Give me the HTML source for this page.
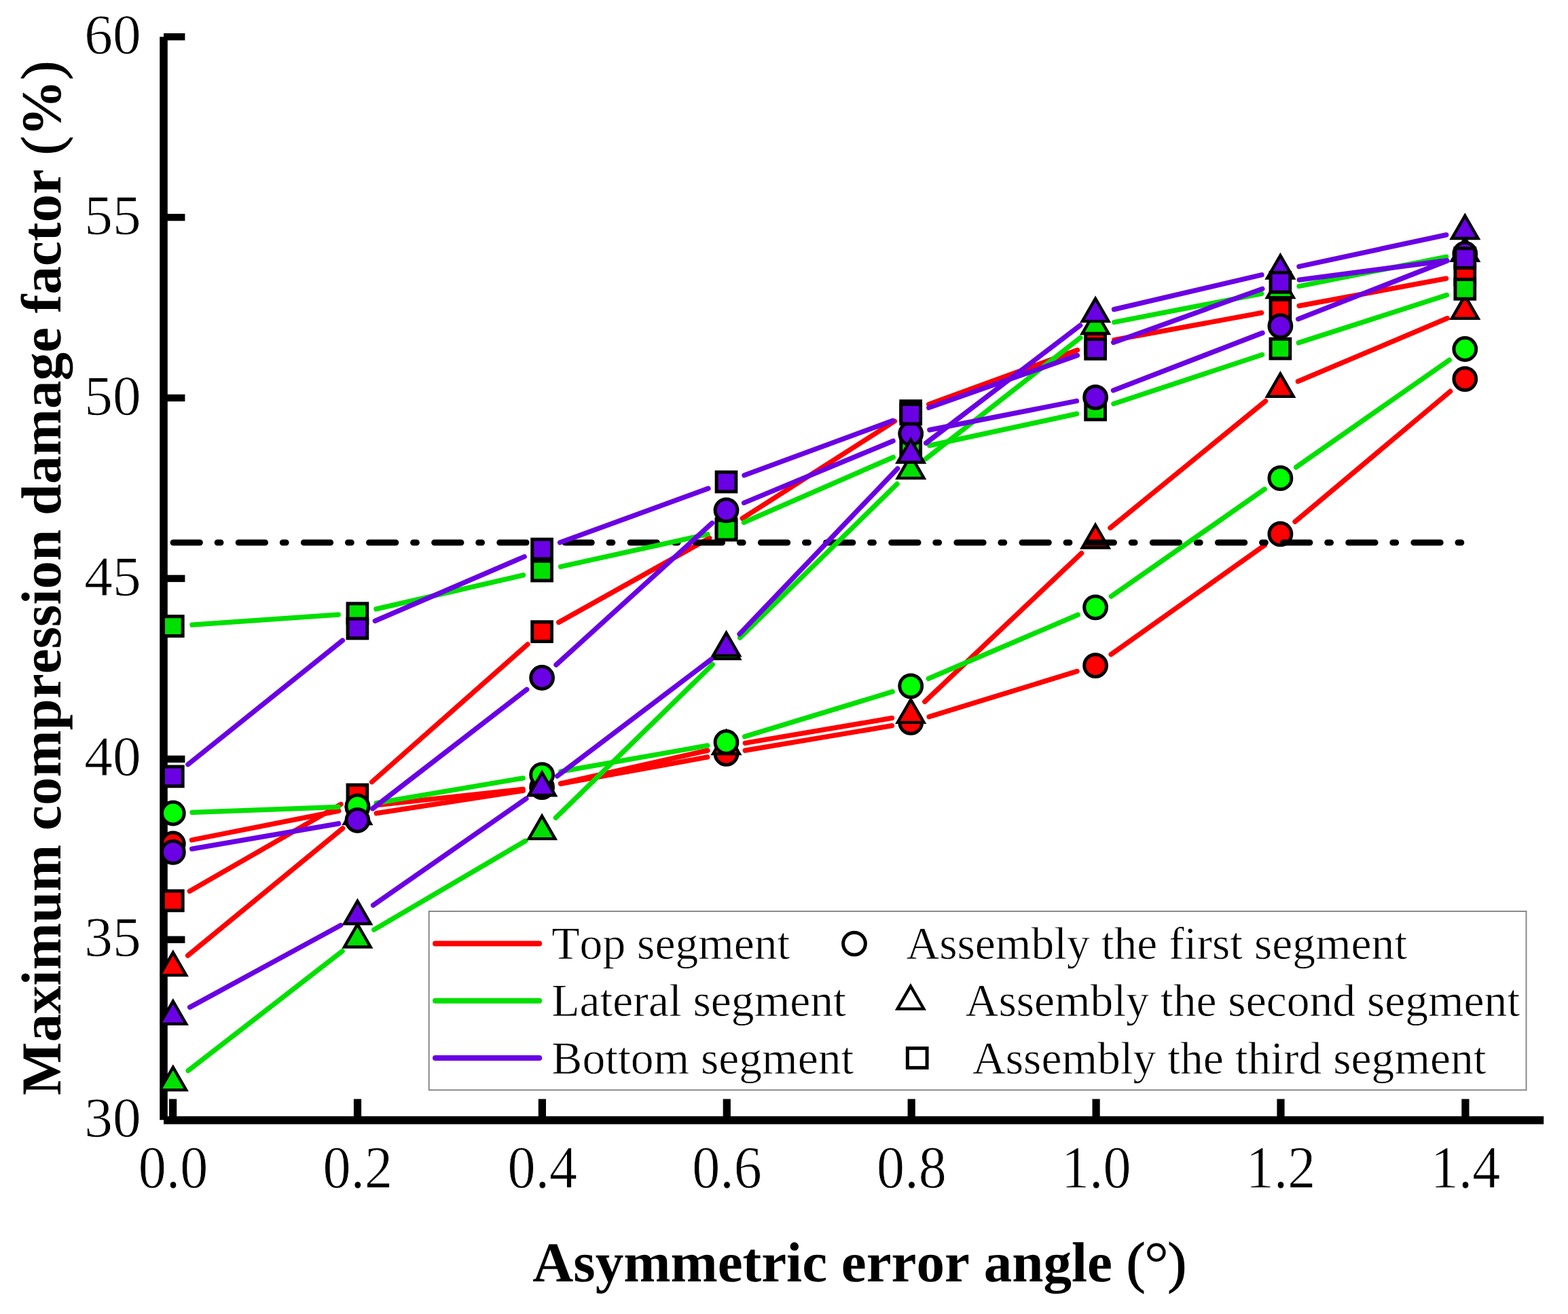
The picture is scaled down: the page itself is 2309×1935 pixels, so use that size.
<!DOCTYPE html>
<html lang="en"><head><meta charset="utf-8"><title>Maximum compression damage factor vs asymmetric error angle</title>
<style>html,body{margin:0;padding:0;background:#fff}body{width:2309px;height:1935px;overflow:hidden}svg{display:block}text{font-family:"Liberation Serif","DejaVu Serif",serif;fill:#000;font-kerning:none;font-variant-ligatures:none;text-rendering:geometricPrecision}.tk{font-size:83.33px;stroke:#fff;stroke-width:.8px}.ti{font-size:83.1px;font-weight:bold}.lg{font-size:67.6px;stroke:#fff;stroke-width:.7px}.pr{font-weight:normal;stroke:#000;stroke-width:1.3px}</style></head><body>
<svg width="2309" height="1935" viewBox="0 0 2309 1935">
<rect width="2309" height="1935" fill="#fff"/>
<g stroke="#000" stroke-width="11.6" fill="none" stroke-linecap="butt">
<path d="M241 54.2V1649.3"/>
<path d="M241 1649.6H2273.2"/>
</g>
<g stroke="#000" stroke-width="10.4" fill="none">
<path d="M241 1383.7H272.4"/>
<path d="M241 1117.8H272.4"/>
<path d="M241 851.9H272.4"/>
<path d="M241 586H272.4"/>
<path d="M241 320.1H272.4"/>
<path d="M241 54.2H272.4"/>
</g>
<g stroke="#000" stroke-width="11.2" fill="none">
<path d="M254.6 1618.4V1649.6"/>
<path d="M526.5 1618.4V1649.6"/>
<path d="M798.4 1618.4V1649.6"/>
<path d="M1070.3 1618.4V1649.6"/>
<path d="M1342.2 1618.4V1649.6"/>
<path d="M1614.1 1618.4V1649.6"/>
<path d="M1886 1618.4V1649.6"/>
<path d="M2157.9 1618.4V1649.6"/>
</g>
<g class="tk" text-anchor="end">
<text x="207.6" y="1674.2">30</text>
<text x="207.6" y="1408.3">35</text>
<text x="207.6" y="1142.4">40</text>
<text x="207.6" y="876.5">45</text>
<text x="207.6" y="610.6">50</text>
<text x="207.6" y="344.7">55</text>
<text x="207.6" y="78.8">60</text>
</g>
<g class="tk" text-anchor="middle">
<text transform="translate(255 1749.3) scale(.985 1.065)">0.0</text>
<text transform="translate(526.85 1749.3) scale(.985 1.065)">0.2</text>
<text transform="translate(798.7 1749.3) scale(.985 1.065)">0.4</text>
<text transform="translate(1070.55 1749.3) scale(.985 1.065)">0.6</text>
<text transform="translate(1342.4 1749.3) scale(.985 1.065)">0.8</text>
<text transform="translate(1614.25 1749.3) scale(.985 1.065)">1.0</text>
<text transform="translate(1886.1 1749.3) scale(.985 1.065)">1.2</text>
<text transform="translate(2157.95 1749.3) scale(.985 1.065)">1.4</text>
</g>
<text class="ti" text-anchor="middle" x="1265.8" y="1887">Asymmetric error angle <tspan class="pr">(</tspan><tspan font-weight="normal" font-size="91" dx="-1.6" dy="4.2">°</tspan><tspan class="pr" dx="-1.7" dy="-4.2">)</tspan></text>
<text class="ti" text-anchor="middle" transform="translate(88.6 851.4) rotate(-90)">Maximum compression damage factor <tspan class="pr">(</tspan>%<tspan class="pr">)</tspan></text>
<defs><clipPath id="plot"><rect x="235.7" y="0" width="2073.3" height="1656"/></clipPath></defs>
<g clip-path="url(#plot)">
<path d="M282.46 1237.01L498.74 1194.09M554.44 1185.57L770.06 1162.23M825.85 1154.16L1041.75 1114.94M1097.3 1105.19L1313.4 1068.61M1368.15 1055.59L1586.15 988.41M1636.08 963.75L1862.42 802.75M1907 768.27L2135.7 576.23" stroke="#ff0000" stroke-width="7.3" stroke-linecap="round" fill="none"/>
<g stroke="#000" stroke-width="5.0" stroke-linejoin="miter">
<circle cx="254.8" cy="1242.5" r="16.4" fill="#ff0000"/>
<circle cx="526.4" cy="1188.6" r="16.4" fill="#ff0000"/>
<circle cx="798.1" cy="1159.2" r="16.4" fill="#ff0000"/>
<circle cx="1069.5" cy="1109.9" r="16.4" fill="#ff0000"/>
<circle cx="1341.2" cy="1063.9" r="16.4" fill="#ff0000"/>
<circle cx="1613.1" cy="980.1" r="16.4" fill="#ff0000"/>
<circle cx="1885.4" cy="786.4" r="16.4" fill="#ff0000"/>
<circle cx="2157.3" cy="558.1" r="16.4" fill="#ff0000"/>
</g>
<path d="M276.59 1407.11L504.61 1219.89M554.27 1197.69L770.23 1164.31M825.61 1153.82L1041.99 1105.18M1097.3 1094.26L1313.4 1057.44M1361.68 1033.31L1592.62 814.69M1634.93 777.45L1863.57 590.55M1911.37 561.71L2131.33 468.69" stroke="#ff0000" stroke-width="7.3" stroke-linecap="round" fill="none"/>
<g stroke="#000" stroke-width="5.0" stroke-linejoin="miter">
<path d="M254.8 1402.71L274.1 1436.14L235.5 1436.14Z" fill="#ff0000" stroke-width="4.4"/>
<path d="M526.4 1179.71L545.7 1213.14L507.1 1213.14Z" fill="#ff0000" stroke-width="4.4"/>
<path d="M798.1 1137.71L817.4 1171.14L778.8 1171.14Z" fill="#ff0000" stroke-width="4.4"/>
<path d="M1069.5 1076.71L1088.8 1110.14L1050.2 1110.14Z" fill="#ff0000" stroke-width="4.4"/>
<path d="M1341.2 1030.41L1360.5 1063.84L1321.9 1063.84Z" fill="#ff0000" stroke-width="4.4"/>
<path d="M1613.1 773.01L1632.4 806.44L1593.8 806.44Z" fill="#ff0000" stroke-width="4.4"/>
<path d="M1885.4 550.41L1904.7 583.84L1866.1 583.84Z" fill="#ff0000" stroke-width="4.4"/>
<path d="M2157.3 435.41L2176.6 468.84L2138 468.84Z" fill="#ff0000" stroke-width="4.4"/>
</g>
<path d="M279.25 1312.35L501.95 1184.35M547.53 1151.63L776.97 948.87M822.72 916.44L1044.88 792.26M1093.27 763.33L1317.43 620.27M1367.69 595.43L1586.61 515.47M1640.83 500.69L1857.67 460.71M1913.12 450.44L2129.58 410.16" stroke="#ff0000" stroke-width="7.3" stroke-linecap="round" fill="none"/>
<g stroke="#000" stroke-width="5.0" stroke-linejoin="miter">
<rect x="240.45" y="1312.05" width="28.7" height="28.7" fill="#ff0000"/>
<rect x="512.05" y="1155.95" width="28.7" height="28.7" fill="#ff0000"/>
<rect x="783.75" y="915.85" width="28.7" height="28.7" fill="#ff0000"/>
<rect x="1055.15" y="764.15" width="28.7" height="28.7" fill="#ff0000"/>
<rect x="1326.85" y="590.75" width="28.7" height="28.7" fill="#ff0000"/>
<rect x="1598.75" y="491.45" width="28.7" height="28.7" fill="#ff0000"/>
<rect x="1871.05" y="441.25" width="28.7" height="28.7" fill="#ff0000"/>
<rect x="2142.95" y="390.65" width="28.7" height="28.7" fill="#ff0000"/>
</g>
<path d="M255 799H2160" stroke="#000" stroke-width="8.9" stroke-linecap="round" stroke-dasharray="39.4 25.7 4.9 26.15" fill="none"/>
<path d="M282.98 1196.44L498.22 1188.36M554.2 1182.57L770.3 1145.83M825.87 1136.18L1041.73 1097.92M1096.48 1084.8L1314.22 1018.6M1367.13 999.33L1587.17 905.37M1636.22 878.16L1862.28 720.34M1908.51 688.04L2134.19 530.16" stroke="#00e000" stroke-width="7.3" stroke-linecap="round" fill="none"/>
<g stroke="#000" stroke-width="5.0" stroke-linejoin="miter">
<circle cx="254.8" cy="1197.5" r="16.4" fill="#00ff00"/>
<circle cx="526.4" cy="1187.3" r="16.4" fill="#00ff00"/>
<circle cx="798.1" cy="1141.1" r="16.4" fill="#00ff00"/>
<circle cx="1069.5" cy="1093" r="16.4" fill="#00ff00"/>
<circle cx="1341.2" cy="1010.4" r="16.4" fill="#00ff00"/>
<circle cx="1613.1" cy="894.3" r="16.4" fill="#00ff00"/>
<circle cx="1885.4" cy="704.2" r="16.4" fill="#00ff00"/>
<circle cx="2157.3" cy="514" r="16.4" fill="#00ff00"/>
</g>
<path d="M277.09 1576.72L504.11 1400.68M550.72 1369.13L773.78 1238.27M818.27 1204.3L1049.33 978.6M1089.65 939.18L1321.05 712.72M1363.4 675.6L1590.9 497.3M1640.78 474.52L1857.72 432.38M1913.05 421.48L2129.65 378.22" stroke="#00e000" stroke-width="7.3" stroke-linecap="round" fill="none"/>
<g stroke="#000" stroke-width="5.0" stroke-linejoin="miter">
<path d="M254.8 1571.71L274.1 1605.14L235.5 1605.14Z" fill="#00e000" stroke-width="4.4"/>
<path d="M526.4 1361.11L545.7 1394.54L507.1 1394.54Z" fill="#00e000" stroke-width="4.4"/>
<path d="M798.1 1201.71L817.4 1235.14L778.8 1235.14Z" fill="#00e000" stroke-width="4.4"/>
<path d="M1069.5 936.61L1088.8 970.04L1050.2 970.04Z" fill="#00e000" stroke-width="4.4"/>
<path d="M1341.2 670.71L1360.5 704.14L1321.9 704.14Z" fill="#00e000" stroke-width="4.4"/>
<path d="M1613.1 457.61L1632.4 491.04L1593.8 491.04Z" fill="#00e000" stroke-width="4.4"/>
<path d="M1885.4 404.71L1904.7 438.14L1866.1 438.14Z" fill="#00e000" stroke-width="4.4"/>
<path d="M2157.3 350.41L2176.6 383.84L2138 383.84Z" fill="#00e000" stroke-width="4.4"/>
</g>
<path d="M282.93 920.14L498.27 905.16M553.88 896.87L770.62 846.93M825.64 834.51L1041.96 786.69M1095.35 769.32L1315.35 673.28M1368.77 656.07L1585.53 609.43M1639.88 594.65L1858.62 522.35M1912.24 504.84L2130.46 434.46" stroke="#00e000" stroke-width="7.3" stroke-linecap="round" fill="none"/>
<g stroke="#000" stroke-width="5.0" stroke-linejoin="miter">
<rect x="240.45" y="907.75" width="28.7" height="28.7" fill="#00e000"/>
<rect x="512.05" y="888.85" width="28.7" height="28.7" fill="#00e000"/>
<rect x="783.75" y="826.25" width="28.7" height="28.7" fill="#00e000"/>
<rect x="1055.15" y="766.25" width="28.7" height="28.7" fill="#00e000"/>
<rect x="1326.85" y="647.65" width="28.7" height="28.7" fill="#00e000"/>
<rect x="1598.75" y="589.15" width="28.7" height="28.7" fill="#00e000"/>
<rect x="1871.05" y="499.15" width="28.7" height="28.7" fill="#00e000"/>
<rect x="2142.95" y="411.45" width="28.7" height="28.7" fill="#00e000"/>
</g>
<path d="M282.59 1250.1L498.61 1212.8M548.71 1190.75L775.79 1015.25M818.97 979.03L1048.63 770.27M1095.55 740.5L1315.15 649.4M1368.87 633.16L1585.43 590.54M1639.41 574.95L1859.09 490.25M1911.66 469.82L2131.04 383.98" stroke="#6a00e4" stroke-width="7.3" stroke-linecap="round" fill="none"/>
<g stroke="#000" stroke-width="5.0" stroke-linejoin="miter">
<circle cx="254.8" cy="1254.9" r="16.4" fill="#6a00e4"/>
<circle cx="526.4" cy="1208" r="16.4" fill="#6a00e4"/>
<circle cx="798.1" cy="998" r="16.4" fill="#6a00e4"/>
<circle cx="1069.5" cy="751.3" r="16.4" fill="#6a00e4"/>
<circle cx="1341.2" cy="638.6" r="16.4" fill="#6a00e4"/>
<circle cx="1613.1" cy="585.1" r="16.4" fill="#6a00e4"/>
<circle cx="1885.4" cy="480.1" r="16.4" fill="#6a00e4"/>
<circle cx="2157.3" cy="373.7" r="16.4" fill="#6a00e4"/>
</g>
<path d="M279.58 1483.24L501.62 1362.66M549.54 1333.08L774.96 1176.02M820.57 1142.87L1047.03 971.23M1088.97 933.8L1321.73 690M1363.61 652.49L1590.69 479.11M1640.56 455.59L1857.94 404.81M1912.97 392.47L2129.73 345.83" stroke="#6a00e4" stroke-width="7.3" stroke-linecap="round" fill="none"/>
<g stroke="#000" stroke-width="5.0" stroke-linejoin="miter">
<path d="M254.8 1474.41L274.1 1507.84L235.5 1507.84Z" fill="#6a00e4" stroke-width="4.4"/>
<path d="M526.4 1326.91L545.7 1360.34L507.1 1360.34Z" fill="#6a00e4" stroke-width="4.4"/>
<path d="M798.1 1137.61L817.4 1171.04L778.8 1171.04Z" fill="#6a00e4" stroke-width="4.4"/>
<path d="M1069.5 931.91L1088.8 965.34L1050.2 965.34Z" fill="#6a00e4" stroke-width="4.4"/>
<path d="M1341.2 647.31L1360.5 680.74L1321.9 680.74Z" fill="#6a00e4" stroke-width="4.4"/>
<path d="M1613.1 439.71L1632.4 473.14L1593.8 473.14Z" fill="#6a00e4" stroke-width="4.4"/>
<path d="M1885.4 376.11L1904.7 409.54L1866.1 409.54Z" fill="#6a00e4" stroke-width="4.4"/>
<path d="M2157.3 317.61L2176.6 351.04L2138 351.04Z" fill="#6a00e4" stroke-width="4.4"/>
</g>
<path d="M276.8 1125.75L504.4 943.15M552.3 914.35L772.2 819.75M824.59 798.94L1043.01 719.26M1095.97 699.88L1314.73 619.52M1367.79 600.42L1586.51 523.28M1639.63 504.34L1858.87 425.36M1913.36 412.13L2129.34 383.77" stroke="#6a00e4" stroke-width="7.3" stroke-linecap="round" fill="none"/>
<g stroke="#000" stroke-width="5.0" stroke-linejoin="miter">
<rect x="240.45" y="1129.05" width="28.7" height="28.7" fill="#6a00e4"/>
<rect x="512.05" y="911.15" width="28.7" height="28.7" fill="#6a00e4"/>
<rect x="783.75" y="794.25" width="28.7" height="28.7" fill="#6a00e4"/>
<rect x="1055.15" y="695.25" width="28.7" height="28.7" fill="#6a00e4"/>
<rect x="1326.85" y="595.45" width="28.7" height="28.7" fill="#6a00e4"/>
<rect x="1598.75" y="499.55" width="28.7" height="28.7" fill="#6a00e4"/>
<rect x="1871.05" y="401.45" width="28.7" height="28.7" fill="#6a00e4"/>
<rect x="2142.95" y="365.75" width="28.7" height="28.7" fill="#6a00e4"/>
</g>
</g>
<rect x="631.7" y="1342" width="1615.8" height="263.2" fill="#fff" stroke="#858585" stroke-width="1.9"/>
<path d="M641 1389.6H794.2" stroke="#ff0000" stroke-width="8" stroke-linecap="round"/>
<text class="lg" x="812.3" y="1412.1">Top segment</text>
<g stroke="#000" stroke-width="5.0" stroke-linejoin="miter"><circle cx="1258" cy="1389.6" r="16.4" fill="#fff"/></g>
<text class="lg" x="1334.4" y="1412.1">Assembly the first segment</text>
<path d="M641 1473.8H794.2" stroke="#00e000" stroke-width="8" stroke-linecap="round"/>
<text class="lg" x="812.3" y="1496.3">Lateral segment</text>
<g stroke="#000" stroke-width="5.0" stroke-linejoin="miter"><path d="M1340.9 1452.21L1360.2 1485.64L1321.6 1485.64Z" fill="#fff" stroke-width="4.4"/></g>
<text class="lg" x="1421.6" y="1496.3">Assembly the second segment</text>
<path d="M641 1558.0H794.2" stroke="#6a00e4" stroke-width="8" stroke-linecap="round"/>
<text class="lg" x="812.3" y="1580.5">Bottom segment</text>
<g stroke="#000" stroke-width="5.0" stroke-linejoin="miter"><rect x="1336.35" y="1543.65" width="28.7" height="28.7" fill="#fff"/></g>
<text class="lg" x="1432.0" y="1580.5">Assembly the third segment</text>
</svg></body></html>
